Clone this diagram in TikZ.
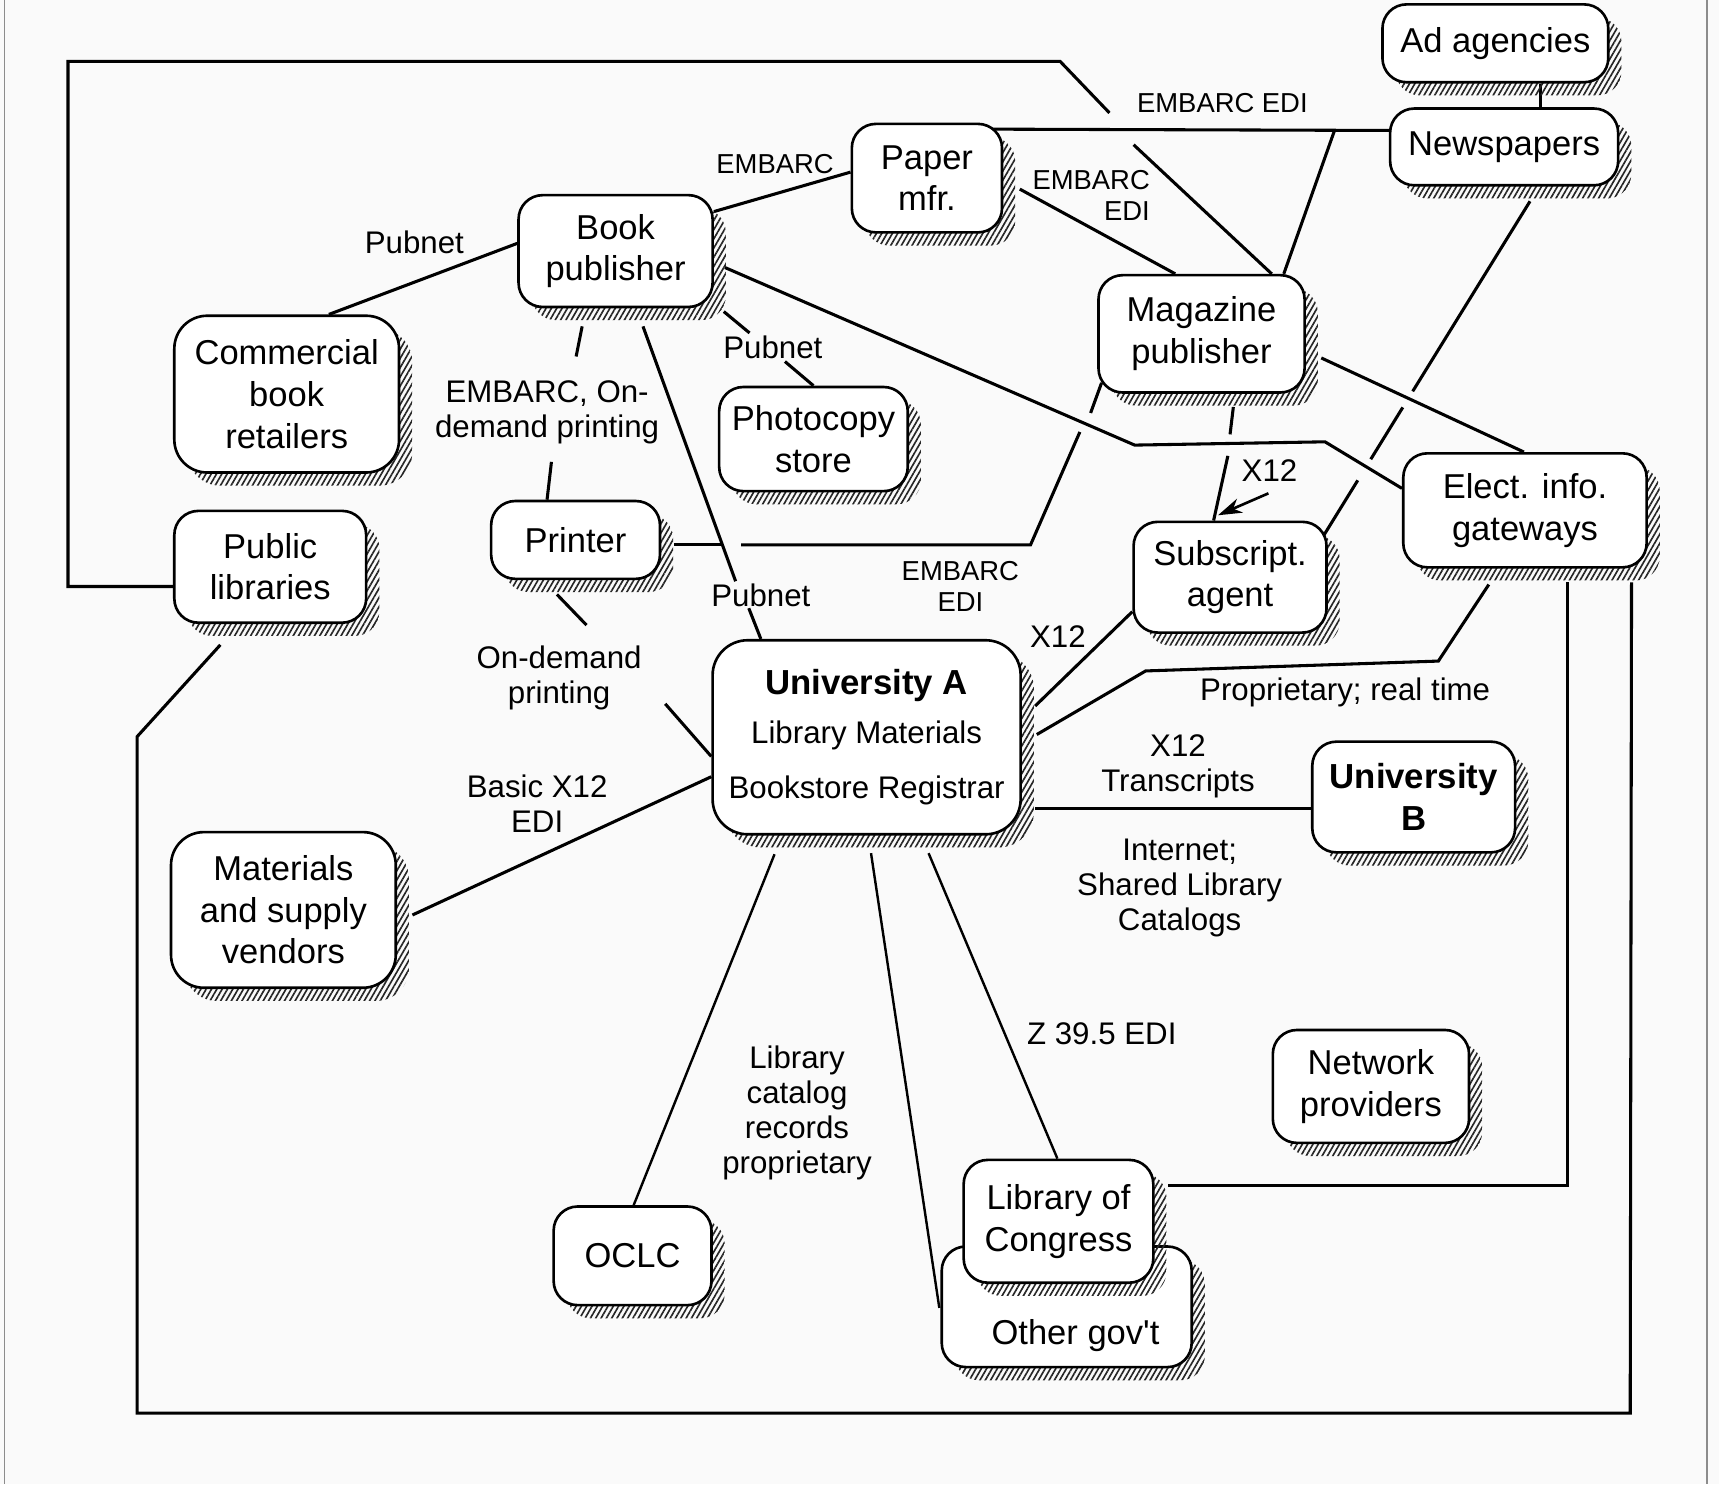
\documentclass[tikz,border=0pt]{standalone}
\usepackage{fontspec}
\setmainfont{Liberation Sans}
\usetikzlibrary{calc,patterns.meta,shadows}
\pgfdeclarelayer{paper}
\pgfdeclarelayer{wires}
\pgfsetlayers{paper,wires,main}
\newcommand\nodefnt{\fontsize{31.5}{38}\selectfont}
\newcommand\labfnt{\fontsize{28.5}{32}\selectfont}
\newcommand\embfnt{\fontsize{25}{28}\selectfont}
\newcommand\boldfnt{\fontsize{31.7}{38}\selectfont\bfseries}
\tikzset{
  hatch/.style={general shadow={shadow xshift=12pt, shadow yshift=-12pt, draw=none,
      pattern={Lines[angle=60,distance=4.2pt,line width=1.5pt]}, pattern color=black!85}},
  box/.style 2 args={draw, line width=2.4pt, fill=white, rounded corners=22pt, hatch,
      minimum width=#1pt, minimum height=#2pt, inner sep=0pt, align=center, font=\nodefnt},
  lab/.style={align=center, inner sep=0pt, font=\labfnt},
  emb/.style={align=center, inner sep=0pt, font=\embfnt},
  wire/.style={line width=2.8pt},
  thinwire/.style={line width=2.2pt},
}
\begin{document}
\begin{tikzpicture}[x=1pt, y=-1pt]
\useasboundingbox (0,0) rectangle (1568,1354);
\begin{pgfonlayer}{paper}
  \fill[black!2] (0,0) rectangle (1568,1354);
  \draw[black!45, line width=1.2pt] (4,0) -- (4,1354);
  \draw[black!45, line width=1.2pt] (1557,0) -- (1557,1354);
\end{pgfonlayer}

% ---- organisations ----
\node[box={206}{71}] (aa) at (1364,39.5) {Ad agencies};
\node[box={208}{70}] (nw) at (1372,134) {Newspapers};
\node[box={137}{99}] (pm) at (845.5,162.5) {Paper\\mfr.};
\node[box={177}{102}] (bp) at (561.5,229) {Book\\publisher};
\node[box={205}{143}, rounded corners=30pt] (cb) at (261.5,359.5) {Commercial\\book\\retailers};
\node[box={188}{107}] (mp) at (1096,304.5) {Magazine\\publisher};
\node[box={172}{95}] (ps) at (742,400.5) {Photocopy\\store};
\node[box={154}{71}] (pr) at (525,492.5) {Printer};
\node[box={175}{102}] (pl) at (246.5,517) {Public\\libraries};
\node[box={176}{101}] (sa) at (1122,526.5) {Subscript.\\agent};
\node[box={222}{104}] (eg) at (1391,465.5) {Elect. info.\\gateways};
\node[box={281}{177}, rounded corners=32pt, font=\labfnt] (ua) at (790.5,672.5)
  {{\boldfnt University A}\\[13pt]Library Materials\\[18pt]Bookstore Registrar};
\node[box={185}{101}, font=\boldfnt] (ub) at (1289.5,727) {University\\B};
\node[box={205}{142}, rounded corners=30pt] (mv) at (258.5,830) {Materials\\and supply\\vendors};
\node[box={179}{103}] (np) at (1250.5,991) {Network\\providers};
\node[box={144}{90}] (oc) at (577,1145.5) {OCLC};
\node[box={228}{110}, text height=68pt, text depth=0pt] (og) at (973,1192)
  {\hspace*{16pt}Other gov\textquotesingle t};
\node[box={173}{112}] (lc) at (965.5,1114) {Library of\\Congress};

% ---- link labels ----
\node[emb] (l1) at (1115,94) {EMBARC EDI};
\node[emb] (l2) at (707,150) {EMBARC};
\node[emb, align=right, anchor=east] (l3) at (1049,178) {EMBARC\\EDI};
\node[lab] (l4) at (378,221) {Pubnet};
\node[lab] (l5) at (705,317) {Pubnet};
\node[lab] (l6) at (499,376) {EMBARC, On-\\demand printing};
\node[lab] (l7) at (694,543) {Pubnet};
\node[lab] (l8) at (510,618) {On-demand\\printing};
\node[emb] (l9) at (876,535) {EMBARC\\EDI};
\node[lab] (l10) at (965,581) {X12};
\node[lab] (l11) at (1158,429) {X12};
\node[lab] (l12) at (1227,632) {Proprietary; real time};
\node[lab] (l13) at (490,733) {Basic X12\\EDI};
\node[lab] (l14) at (1074.5,699) {X12\\Transcripts};
\node[lab] (l15) at (1076,810) {Internet;\\Shared Library\\Catalogs};
\node[lab] (l16) at (1005,943) {Z 39.5 EDI};
\node[lab] (l17) at (727,1015) {Library\\catalog\\records\\proprietary};

% ---- links ----
\begin{pgfonlayer}{wires}
  % ad agencies -- newspapers
  \draw[wire] ($(aa.south)+(41,0)$) -- ($(nw.north)+(33,0)$);
  % paper mfr. -- newspapers, with branch down to the magazine publisher
  \draw[wire] ($(pm.north east)+(-10,6)$) -- ($(nw.west)+(0,-15)$);
  \draw[wire] ($(mp.north)+(75,0)$) -- ++(46,-130);
  % public libraries -- magazine publisher (EMBARC EDI), jumping the paper line
  \draw[wire] ($(pl.west)+(0,18)$) -| (62,56) -- (967,56) -- (1012,103);
  \draw[wire] (1034,132) -- ($(mp.north)+(64,0)$);
  % paper mfr. -- magazine publisher
  \draw[wire] ($(pm.east)+(15,10)$) -- ($(mp.north)+(-24,0)$);
  % book publisher -- paper mfr.
  \draw[wire] ($(bp.east)+(0,-36)$) -- ($(pm.west)+(0,-5.5)$);
  % book publisher -- commercial retailers
  \draw[wire] ($(bp.west)+(0,-7)$) -- ($(cb.north)+(38.5,0)$);
  % book publisher -- photocopy store (Pubnet)
  \draw[wire] ($(bp.south east)+(9,3)$) -- ++(23.5,19.5);
  \draw[wire] (ps.north) -- ++(-26,-22);
  % book publisher -- printer
  \draw[wire] ($(bp.south)+(-30.5,16.5)$) -- ++(-5.5,27.5);
  \draw[wire] ($(pr.north)+(-26,0)$) -- ++(4,-34.5);
  % book publisher -- university A (Pubnet)
  \draw[wire] ($(bp.south)+(25,16.5)$) -- ++(84.5,232.5);
  \draw[wire] ($(ua.north)+(-96.5,0)$) -- ++(-11,-28);
  % printer -- magazine publisher (EMBARC EDI)
  \draw[wire] ($(pr.east)+(12,4.5)$) -- ++(44.7,0);
  \draw[wire] ($(pr.east)+(72.7,4.5)$) -- (940,497) -- (985,394);
  \draw[wire] ($(mp.south west)+(4,-10)$) -- ++(-10,27.5);
  % printer -- university A (on-demand printing)
  \draw[wire] ($(pr.south)+(-17,13)$) -- ++(27,28);
  \draw[wire] ($(ua.west)+(0,17.5)$) -- ++(-42,-48);
  % materials vendors -- university A
  \draw[wire] ($(mv.east)+(14,4.6)$) -- ($(ua.west)+(0,36)$);
  % public libraries -- electronic gateways, round the outside
  \draw[wire] ($(pl.south)+(-45.5,19)$) -- (125,672) -- (125,1289) -- (1487,1289)
     -- ($(eg.south east)+(-15,12.5)$);
  % electronic gateways -- library of congress
  \draw[wire] ($(eg.south)+(39,12.5)$) |- ($(lc.east)+(12,-33)$);
  % electronic gateways -- university A (proprietary; real time)
  \draw[wire] ($(eg.south)+(-33,14.5)$) -- (1312,603) -- (1045,612) -- ($(ua.east)+(13.5,-2.5)$);
  % subscription agent -- university A
  \draw[wire] ($(sa.west)+(0,31.5)$) -- ($(ua.east)+(12,-28.5)$);
  % university A -- university B
  \draw[wire] ($(ua.east)+(12,64.8)$) -- ($(ub.west)+(0,10.3)$);
  % magazine publisher -- subscription agent (X12), jumping the gateway line
  \draw[wire] ($(mp.south)+(29,12)$) -- ++(-3,25);
  \draw[wire] ($(sa.north)+(-15,0)$) -- ++(13,-59);
  % book publisher -- electronic gateways
  \draw[wire] ($(bp.east)+(10,15)$) -- (1035,406) -- (1208.6,403) -- ($(eg.west)+(0,-20)$);
  % magazine publisher -- electronic gateways
  \draw[wire] ($(mp.east)+(14,22)$) -- ($(eg.north)+(-1,0)$);
  % newspapers -- subscription agent, jumping two lines
  \coordinate (nwA) at ($(nw.south)+(23.6,13.4)$);
  \coordinate (saA) at ($(sa.north east)+(-4,14)$);
  \draw[wire] (nwA) -- ($(nwA)!0.568!(saA)$);
  \draw[wire] ($(nwA)!0.616!(saA)$) -- ($(nwA)!0.771!(saA)$);
  \draw[wire] ($(nwA)!0.834!(saA)$) -- (saA);
  % university A -- OCLC, other gov't, library of congress
  \draw[thinwire] ($(ua.south)+(-84,17)$) -- ($(oc.north)+(1,0)$);
  \draw[thinwire] ($(ua.south)+(4,16)$) -- ($(og.west)+(-1,1)$);
  \draw[thinwire] ($(ua.south)+(56.5,16)$) -- ($(lc.north)+(-1,0)$);
\end{pgfonlayer}
% pointer from the X12 label: shaft and a filled barbed head
\draw[line width=2.4pt] ($(l11.center)+(-1,21)$) -- ($(l11.center)+(-33.2,35)$);
\fill ($(l11.center)+(-47,41)$) -- ($(l11.center)+(-24,38.6)$)
   -- ($(l11.center)+(-33.2,35)$) -- ($(l11.center)+(-29.6,25.8)$) -- cycle;
\end{tikzpicture}
\end{document}
